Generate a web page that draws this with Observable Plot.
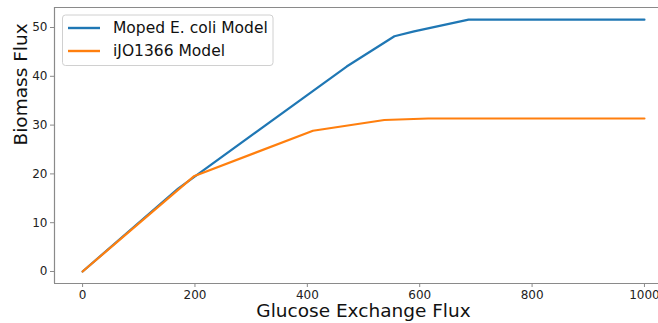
<!DOCTYPE html>
<html>
<head>
<meta charset="utf-8">
<script src="https://cdn.jsdelivr.net/npm/d3@7"></script>
<script src="https://cdn.jsdelivr.net/npm/@observablehq/plot@0.6"></script>
<style>
  html, body { margin: 0; padding: 0; background: #fff; }
  #chart { position: relative; width: 658px; height: 323px; overflow: hidden; }
  svg { font-family: "DejaVu Sans", sans-serif; }
</style>
</head>
<body>
<div id="chart"></div>
<script>
// ---- data ----
const seriesNames = ["Moped E. coli Model", "iJO1366 Model"];
const seriesColors = ["#1f77b4", "#ff7f0e"];
const mopedGlucose = [0, 170, 470, 555, 590, 687, 1000];
const mopedBiomass = [0, 17.0, 42.0, 48.2, 49.2, 51.6, 51.6];
const ijoGlucose = [0, 198, 410, 537, 615, 1000];
const ijoBiomass = [0, 19.5, 28.85, 31.05, 31.35, 31.35];
const xTicks = [0, 200, 400, 600, 800, 1000];
const yTicks = [0, 10, 20, 30, 40, 50];
const xLabel = "Glucose Exchange Flux";
const yLabel = "Biomass Flux";
const xDomain = [-50, 1025];
const yDomain = [-2.46, 54.1];

const rows = [
  ...mopedGlucose.map((g, i) => ({series: seriesNames[0], x: g, y: mopedBiomass[i]})),
  ...ijoGlucose.map((g, i) => ({series: seriesNames[1], x: g, y: ijoBiomass[i]}))
];

const spine = "#8a8a8a";
const plot = Plot.plot({
  width: 658,
  height: 323,
  marginLeft: 54,
  marginRight: 0,
  marginTop: 7,
  marginBottom: 40,
  style: {fontFamily: "DejaVu Sans, sans-serif", background: "white"},
  x: {domain: xDomain, ticks: xTicks},
  y: {domain: yDomain, ticks: yTicks},
  color: {domain: seriesNames, range: seriesColors},
  marks: [
    Plot.ruleY([yDomain[1]], {stroke: spine, strokeWidth: 1.2}),
    Plot.ruleY([yDomain[0]], {stroke: spine, strokeWidth: 1.2}),
    Plot.ruleX([xDomain[0]], {stroke: spine, strokeWidth: 1.2}),
    Plot.axisX(xTicks, {tickSize: 4, tickPadding: 3, stroke: spine, fill: "#222", fontSize: 12, label: null, tickFormat: d => String(d)}),
    Plot.axisY(yTicks, {tickSize: 4, tickPadding: 3, stroke: spine, fill: "#222", fontSize: 12, label: null, tickFormat: d => String(d)}),
    Plot.line(rows, {x: "x", y: "y", z: "series", stroke: "series", strokeWidth: 2.2, strokeLinejoin: "miter"}),
    Plot.text([xLabel], {text: d => d, frameAnchor: "bottom", dx: 7, dy: 33.5, fontSize: 18.5, fill: "#111"}),
    Plot.text([yLabel], {text: d => d, frameAnchor: "left", rotate: -90, dx: -33, fontSize: 18.5, fill: "#111"})
  ]
});
document.getElementById("chart").appendChild(plot);

// ---- legend (upper left, inside axes) ----
const svg = d3.select(plot);
const lg = svg.append("g").attr("transform", "translate(62.5,15)");
lg.append("rect")
  .attr("width", 210.5).attr("height", 50.5).attr("rx", 3)
  .attr("fill", "white").attr("fill-opacity", 0.8)
  .attr("stroke", "#d0d0d0").attr("stroke-width", 1);
seriesNames.forEach((name, i) => {
  const y = 13 + i * 23;
  lg.append("line").attr("x1", 5.5).attr("x2", 37.5).attr("y1", y).attr("y2", y)
    .attr("stroke", seriesColors[i]).attr("stroke-width", 2.4);
  lg.append("text").attr("x", 50.5).attr("y", y).attr("dy", "0.35em")
    .attr("text-anchor", "start")
    .attr("font-size", 15.5).attr("fill", "#111").text(name);
});
</script>
</body>
</html>
